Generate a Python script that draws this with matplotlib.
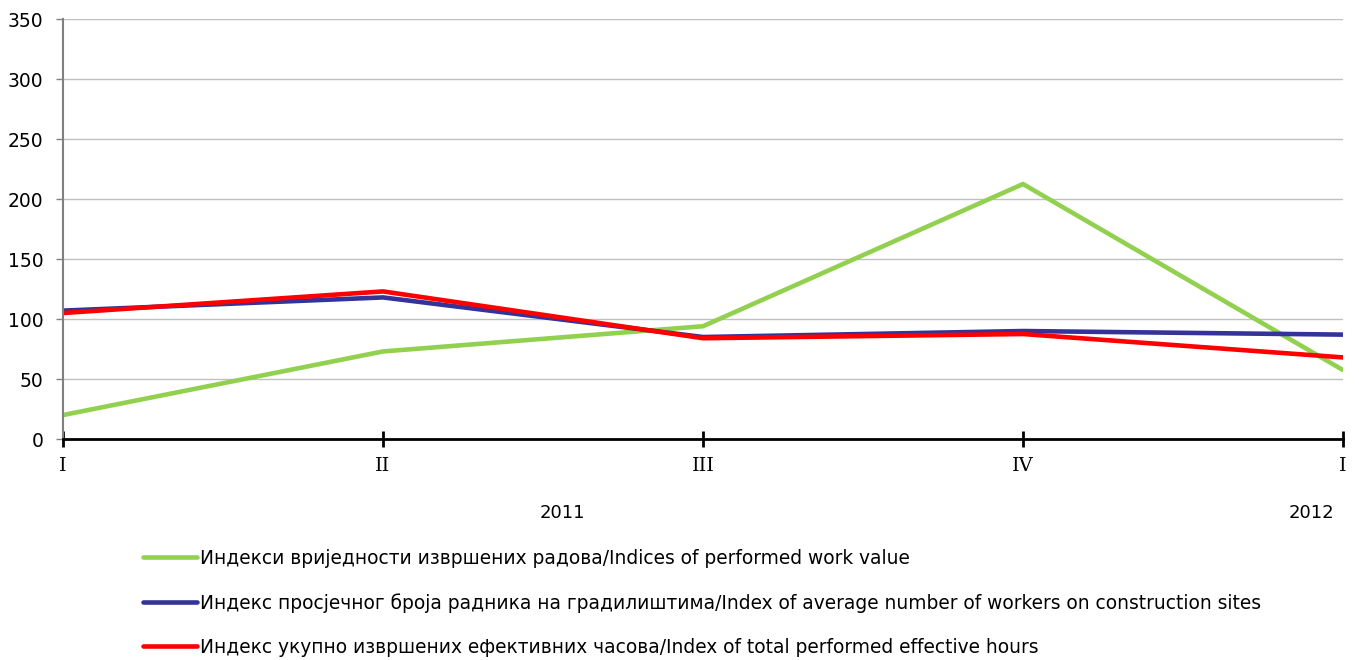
import matplotlib
matplotlib.use("Agg")
import matplotlib.pyplot as plt

# quarters on the category axis
quarters = ["I", "II", "III", "IV", "I"]
years = ["2011", "2012"]
year_pos = [1.56, 3.9]

work_value = [20, 73, 94, 212.5, 57.5]
workers = [107, 118, 85, 90, 87]
eff_hours = [105, 123, 84, 87.5, 68]

labels = [
    "Индекси вриједности извршених радова/Indices of performed work value",
    "Индекс просјечног броја радника на градилиштима/Index of average number of workers on construction sites",
    "Индекс укупно извршених ефективних часова/Index of total performed effective hours",
]
colors = ["#92D050", "#333399", "#FF0000"]

plt.rcParams['font.family'] = ['DejaVu Sans']

fig = plt.figure(figsize=(13.59, 6.6), dpi=100)
ax = fig.add_axes([0.0464, 0.3348, 0.9418, 0.6364])

x = list(range(len(quarters)))
for series, col, lab in zip([work_value, workers, eff_hours], colors, labels):
    ax.plot(x, series, color=col, linewidth=3.3, label=lab, solid_capstyle='round')

ax.set_xlim(0, len(quarters) - 1)
ax.set_ylim(0, 350)
ax.set_yticks(range(0, 351, 50))
ax.set_xticks(x)
ax.set_xticklabels(quarters, family='DejaVu Serif', fontsize=14)
ax.tick_params(axis='y', labelsize=13.5, length=5, width=1, color='#808080', pad=9)
ax.tick_params(axis='x', direction='inout', length=12, width=2, pad=7)
ax.grid(True, axis='y', color='#C0C0C0', linewidth=1)
ax.set_axisbelow(True)

for s in ['top', 'right']:
    ax.spines[s].set_visible(False)
ax.spines['left'].set_color('#808080')
ax.spines['left'].set_linewidth(1.5)
ax.spines['bottom'].set_color('black')
ax.spines['bottom'].set_linewidth(2)

for yr, p in zip(years, year_pos):
    ax.text(p, -0.175, yr, transform=ax.get_xaxis_transform(), ha='center', va='center', fontsize=13)

fig.legend(loc='upper left', bbox_to_anchor=(0.0998, 0.18), frameon=False, fontsize=13.4,
           handlelength=2.9, handletextpad=0.16, labelspacing=1.36, borderaxespad=0)

fig.savefig("out.png", dpi=100)
